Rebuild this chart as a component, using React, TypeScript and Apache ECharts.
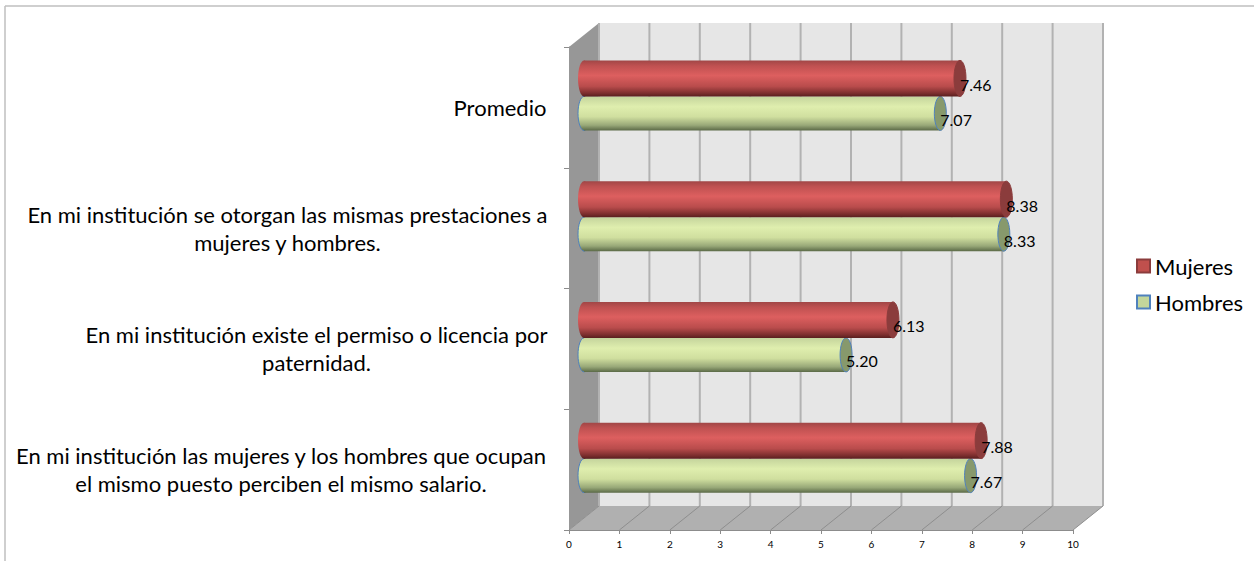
import React, { useEffect, useRef } from "react";
import * as echarts from "echarts";

const categories = [
  "En mi institución las mujeres y los hombres que ocupan\nel mismo puesto perciben el mismo salario.",
  "En mi institución existe el permiso o licencia por\npaternidad.",
  "En mi institución se otorgan las mismas prestaciones a\nmujeres y hombres.",
  "Promedio",
];
const mujeres = [7.88, 6.13, 8.38, 7.46];
const hombres = [7.67, 5.2, 8.33, 7.07];
const xTicks = [0, 1, 2, 3, 4, 5, 6, 7, 8, 9, 10];

const labelWidths = [532, 461, 519, 94];
const DX = 30;
const DY = 24;
const FONT = "Lato, 'Open Sans', sans-serif";

function grad(stops: [number, string][]) {
  return new echarts.graphic.LinearGradient(0, 0, 0, 1, stops.map(([offset, color]) => ({ offset, color })));
}
const redGrad = () => grad([[0, "#a04646"], [0.15, "#bf5151"], [0.42, "#dd5f5f"], [0.72, "#b94c4c"], [0.92, "#7a2d2d"], [1, "#5a1f1f"]]);
const greenGrad = () => grad([[0, "#c4d49c"], [0.3, "#dfeeae"], [0.6, "#d0df9f"], [0.85, "#98a878"], [1, "#5c6b48"]]);

function cylinder(kind: "red" | "green") {
  return (_p: any, api: any) => {
    const v = api.value(0);
    const i = api.value(1);
    const c = api.coord([v, i]);
    const z = api.coord([0, i]);
    const h = kind === "red" ? 36 : 34;
    const xEnd = c[0] + DX / 2;
    const x0 = z[0] + DX / 2;
    const yc = c[1] - DY / 2;
    const top = kind === "red" ? yc - 35 : yc + 1;
    const mid = top + h / 2;
    const capFill = kind === "red" ? "#8b3c3c" : "#87996c";
    const capStroke = kind === "red" ? "#8b3c3c" : "#4f81bd";
    const fill = kind === "red" ? redGrad() : greenGrad();
    return {
      type: "group",
      children: [
        { type: "ellipse", shape: { cx: x0, cy: mid, rx: 6, ry: h / 2 }, style: { fill, stroke: kind === "red" ? null : "#4f81bd", lineWidth: 1 } },
        { type: "rect", shape: { x: x0, y: top, width: xEnd - x0, height: h }, style: { fill } },
        { type: "ellipse", shape: { cx: xEnd, cy: mid, rx: 6, ry: h / 2 }, style: { fill: capFill, stroke: capStroke, lineWidth: 1 } },
        {
          type: "text",
          style: {
            x: xEnd,
            y: mid + 6,
            text: v.toFixed(2),
            fill: "#000",
            font: `16px ${FONT}`,
            textAlign: "left",
            textVerticalAlign: "middle",
          },
        },
      ],
    };
  };
}

function wallItem(p: any) {
  const g = p.coordSys;
  const l = g.x, r = g.x + g.width, t = g.y, b = g.y + g.height;
  return {
    type: "group",
    silent: true,
    children: [
      { type: "rect", shape: { x: l + DX, y: t - DY, width: g.width, height: g.height }, style: { fill: "#e6e6e6" } },
      { type: "polygon", shape: { points: [[l, t], [l + DX, t - DY], [l + DX, b - DY], [l, b]] }, style: { fill: "#979797" } },
      { type: "polygon", shape: { points: [[l, b], [l + DX, b - DY], [r + DX, b - DY], [r, b]] }, style: { fill: "#b0b0b0" } },
    ],
  };
}

function gridLineItem(_p: any, api: any) {
  const tick = api.value(0);
  const g = _p.coordSys;
  const x = api.coord([tick, 0])[0];
  const t = g.y, b = g.y + g.height;
  return {
    type: "group",
    silent: true,
    children: [
      { type: "line", shape: { x1: x + DX, y1: t - DY, x2: x + DX, y2: b - DY }, style: { stroke: "#b2b2b2", lineWidth: 2 } },
      { type: "line", shape: { x1: x, y1: b, x2: x + DX, y2: b - DY }, style: { stroke: "#8e8e8e", lineWidth: 1 } },
    ],
  };
}

export default function App() {
  const ref = useRef<HTMLDivElement>(null);
  useEffect(() => {
    const chart = echarts.init(ref.current!, null, { renderer: "svg" });
    const rich: any = {};
    labelWidths.forEach((w, i) => {
      rich["w" + i] = { width: w, align: "center", fontSize: 22, lineHeight: 28, fontFamily: FONT, color: "#000" };
    });
    chart.setOption({
      animation: false,
      backgroundColor: "#fff",
      textStyle: { fontFamily: FONT },
      grid: { left: 569, top: 47, width: 504, height: 483, containLabel: false },
      graphic: [
        { type: "line", z: 0, shape: { x1: 5, y1: 6, x2: 1254, y2: 6 }, style: { stroke: "#bfbfbf", lineWidth: 1.5 } },
        { type: "line", z: 0, shape: { x1: 5, y1: 6, x2: 5, y2: 561 }, style: { stroke: "#bfbfbf", lineWidth: 1.5 } },
      ],
      legend: {
        data: ["Mujeres", "Hombres"],
        orient: "vertical",
        left: 1131,
        top: 250,
        itemWidth: 13,
        itemHeight: 13,
        itemGap: 14,
        icon: "rect",
        textStyle: { fontSize: 22, fontFamily: FONT, color: "#000" },
      },
      xAxis: {
        type: "value",
        min: 0,
        max: 10,
        interval: 1,
        splitLine: { show: false },
        axisLine: { show: true, lineStyle: { color: "#8c8c8c" } },
        axisTick: { show: true, length: 4, lineStyle: { color: "#8c8c8c" } },
        axisLabel: { fontSize: 10, color: "#000", margin: 9, fontFamily: FONT },
      },
      yAxis: {
        type: "category",
        data: categories,
        axisLine: { show: true, lineStyle: { color: "#8c8c8c" } },
        axisTick: { show: true, length: 5, lineStyle: { color: "#8c8c8c" } },
        axisLabel: {
          margin: 22,
          align: "right",
          rich,
          formatter: (value: string, index: number) =>
            value.split("\n").map((line) => `{w${index}|${line}}`).join("\n"),
        },
      },
      series: [
        { type: "custom", name: "walls", z: 1, silent: true, clip: false, renderItem: wallItem, data: [[0, 0]], encode: { x: 0, y: 1 } },
        { type: "custom", name: "grid", z: 2, silent: true, clip: false, renderItem: gridLineItem, data: xTicks.map((t) => [t, 0]), encode: { x: 0, y: 1 } },
        { type: "custom", name: "Hombres", z: 3, clip: false, itemStyle: { color: "#c3d69b", borderColor: "#4f81bd", borderWidth: 1 }, renderItem: cylinder("green"), data: hombres.map((v, i) => [v, i]), encode: { x: 0, y: 1 } },
        { type: "custom", name: "Mujeres", z: 4, clip: false, itemStyle: { color: "#c0504d", borderColor: "#8b3c3c", borderWidth: 1 }, renderItem: cylinder("red"), data: mujeres.map((v, i) => [v, i]), encode: { x: 0, y: 1 } },
      ],
    });
    return () => chart.dispose();
  }, []);
  return <div ref={ref} style={{ position: "fixed", left: 0, top: 0, width: 1254, height: 561 }} />;
}
